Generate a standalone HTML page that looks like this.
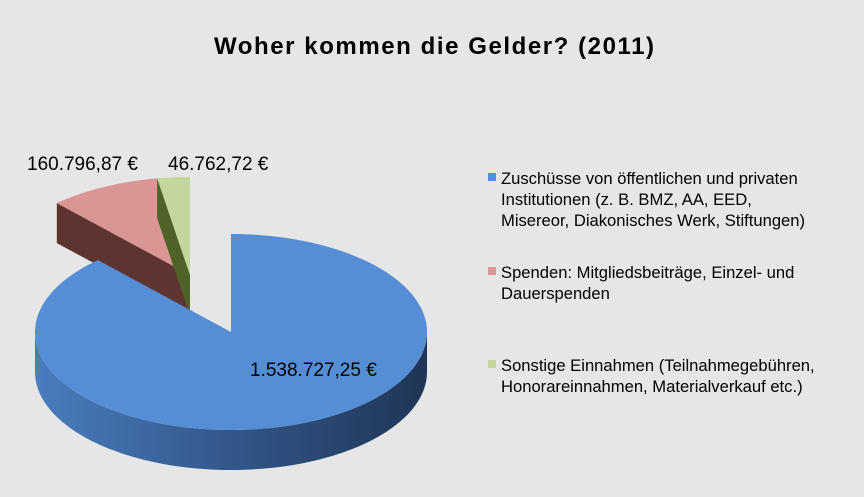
<!DOCTYPE html>
<html><head><meta charset="utf-8">
<style>
html,body{margin:0;padding:0;background:#e6e6e6;}
svg{display:block;font-family:"Liberation Sans",Arial,sans-serif;}
</style></head>
<body>
<svg id="chart" width="864" height="497" viewBox="0 0 864 497" xmlns="http://www.w3.org/2000/svg">
<defs>
<linearGradient id="blueSide" x1="0" x2="1" y1="0" y2="0">
<stop offset="0" stop-color="#4a7dbf"/><stop offset="0.5" stop-color="#32578a"/><stop offset="1" stop-color="#1f3555"/>
</linearGradient>
</defs>
<rect x="0" y="0" width="864" height="497" fill="#e6e6e6"/>
<text x="434" y="54" text-anchor="middle" font-size="24" font-weight="bold" fill="#000" textLength="440">Woher kommen die Gelder? (2011)</text>
<g id="pie"></g>
<g id="labels"></g>
<g id="legend"></g>
</svg>
<script>
const categories = ["Zuschüsse von öffentlichen und privaten|Institutionen (z. B. BMZ, AA, EED,|Misereor, Diakonisches Werk, Stiftungen)", "Spenden: Mitgliedsbeiträge, Einzel- und|Dauerspenden", "Sonstige Einnahmen (Teilnahmegebühren,|Honorareinnahmen, Materialverkauf etc.)"];
const values = [1538727.25, 160796.87, 46762.72];
const valueLabels = ["1.538.727,25 €", "160.796,87 €", "46.762,72 €"];
const topColors = ["#558ed5", "#d99694", "#c3d69b"];
const wallColors = ["url(#blueSide)", "#5e3431", "#4f6228"];

const NS = "http://www.w3.org/2000/svg";
const cx = 231, cy = 332, rx = 196, ry = 98, depth = 40;
const explode = [[0,0],[-41,-57],[-41,-57]];
const total = values.reduce((a,b)=>a+b,0);
function pt(theta, ox, oy, dy){ // theta degrees clockwise from top
  const r = theta*Math.PI/180;
  return [cx+ox+rx*Math.sin(r), cy+oy+(dy||0)-ry*Math.cos(r)];
}
function arcPath(a0,a1,ox,oy,dy,steps){
  let s=[]; const n=steps||Math.max(2,Math.ceil(Math.abs(a1-a0)/2));
  for(let i=0;i<=n;i++){const p=pt(a0+(a1-a0)*i/n,ox,oy,dy);s.push(p[0].toFixed(2)+","+p[1].toFixed(2));}
  return s;
}
const pie = document.getElementById("pie");
function add(parent, tag, attrs){const e=document.createElementNS(NS,tag);for(const k in attrs)e.setAttribute(k,attrs[k]);parent.appendChild(e);return e;}

let angles=[]; let acc=0;
values.forEach(v=>{const a0=acc/total*360; acc+=v; angles.push([a0, acc/total*360]);});

const order=[1,2,0];
order.forEach(i=>{
  const [a0,a1]=angles[i]; const [ox,oy]=explode[i];
  const g=add(pie,"g",{});
  
  
  const c=[cx+ox, cy+oy];
  // radial wall at start angle (visible for left-side slices)
  if(i>0){
    const p=pt(a0,ox,oy);
    const w=add(g,"polygon",{points:`${c[0]},${c[1]} ${p[0]},${p[1]} ${p[0]},${p[1]+depth} ${c[0]},${c[1]+depth}`,fill:wallColors[i]});
    
    
  }
  // outer front side (theta 90..270)
  const s0=Math.max(a0,90), s1=Math.min(a1,270);
  if(s1>s0){
    const top=arcPath(s0,s1,ox,oy,0); const bot=arcPath(s1,s0,ox,oy,depth);
    const sd=add(g,"polygon",{points:top.concat(bot).join(" "),fill:wallColors[i]});
    
    
  }
  const arc=arcPath(a0,a1,ox,oy,0);
  const tp=add(g,"polygon",{points:[c[0]+","+c[1]].concat(arc).join(" "),fill:topColors[i]});
  
  
});

const labels=document.getElementById("labels");
const labelPos=[[250,376,"start"],[27,170,"start"],[168,170,"start"]];
valueLabels.forEach((t,i)=>{
  const e=add(labels,"text",{x:labelPos[i][0],y:labelPos[i][1],"font-size":"19","text-anchor":labelPos[i][2],fill:"#000"});
  
  
  e.textContent=t;
});

const legend=document.getElementById("legend");
const legendY=[184,278,371];
categories.forEach((c,i)=>{
  const r=add(legend,"rect",{x:488,y:legendY[i]-11,width:8,height:8,fill:topColors[i]});
  
  
  c.split("|").forEach((line,j)=>{
    const e=add(legend,"text",{x:501,y:legendY[i]+j*21,"font-size":"16.6",fill:"#000"});
    
    
    e.textContent=line;
  });
});
</script>
</body></html>
